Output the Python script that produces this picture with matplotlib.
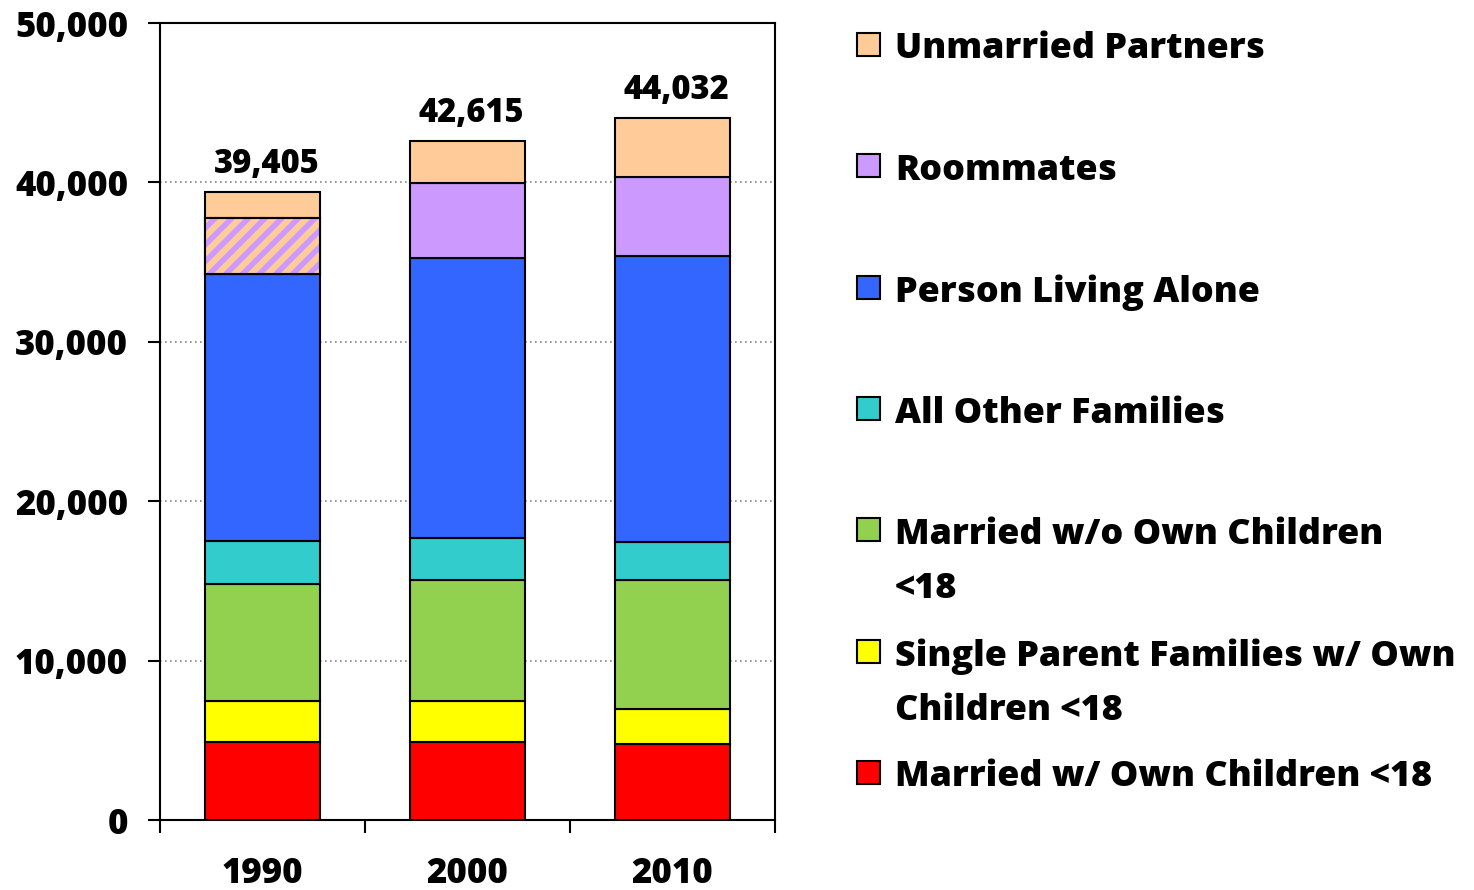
import matplotlib.pyplot as plt
from matplotlib.patches import Rectangle
from matplotlib.ticker import FuncFormatter, FixedLocator

# data (thousands of households), bottom to top
years = ["1990", "2000", "2010"]
married_kids = [4890, 4890, 4770]
single_parent = [2580, 2580, 2190]
married_no_kids = [7330, 7590, 8100]
other_families = [2700, 2630, 2380]
living_alone = [16750, 17570, 17940]
roommates = [3520, 4700, 4960]
unmarried = [1635, 2655, 3692]
totals = [39405, 42615, 44032]

series = [married_kids, single_parent, married_no_kids, other_families,
          living_alone, roommates, unmarried]
labels = ["Married w/ Own Children <18",
          "Single Parent Families w/ Own\nChildren <18",
          "Married w/o Own Children\n<18",
          "All Other Families",
          "Person Living Alone",
          "Roommates",
          "Unmarried Partners"]
colors = ["#ff0000", "#ffff00", "#92d050", "#33cccc", "#3366ff", "#cc99ff",
          "#ffcc99"]

plt.rcParams['font.family'] = ['Open Sans', 'DejaVu Sans']
plt.rcParams['font.weight'] = 'heavy'
plt.rcParams['hatch.linewidth'] = 4.0
wt = "heavy"

fig = plt.figure(figsize=(14.74, 8.9), dpi=100)
ax = fig.add_axes([160/1474, 70/890, 615/1474, 797/890])

x = list(range(len(years)))
width = 0.56
bottom = [0, 0, 0]
for vals, col in zip(series, colors):
    ax.bar(x, vals, width, bottom=bottom, color=col, edgecolor="black",
           linewidth=1.5, zorder=3)
    bottom = [b + v for b, v in zip(bottom, vals)]

# 1990 roommates and partners not separated: hatched overlay
b90 = sum(s[0] for s in series[:5])
ax.bar(x[0], roommates[0], width, bottom=b90, color=colors[6],
       edgecolor=colors[5], hatch="//", linewidth=0, zorder=4)
ax.bar(x[0], roommates[0], width, bottom=b90, color="none",
       edgecolor="black", linewidth=1.5, zorder=5)

for xi, t in zip(x, totals):
    ax.text(xi + 0.02, t + 700, f"{t:,}", ha="center", va="bottom",
            fontsize=23.5, fontweight=wt)

ax.set_xlim(-0.5, 2.5)
ax.set_ylim(0, 50000)
ax.yaxis.set_major_locator(FixedLocator([0, 10000, 20000, 30000, 40000, 50000]))
ax.yaxis.set_major_formatter(FuncFormatter(lambda v, p: f"{int(v):,}"))
ax.set_xticks([-0.5, 0.5, 1.5, 2.5])
ax.set_xticklabels([])
ax.set_xticks(x, minor=True)
ax.set_xticklabels(years, minor=True)
ax.tick_params(axis="x", which="major", direction="out", length=9, width=1.5)
ax.tick_params(axis="x", which="minor", length=0, pad=26, labelsize=25)
ax.tick_params(axis="y", direction="out", length=9, width=1.5, pad=14,
               labelsize=25)
for lab in ax.get_xticklabels(minor=True) + ax.get_yticklabels():
    lab.set_fontweight(wt)
for sp in ax.spines.values():
    sp.set_linewidth(1.5)
ax.grid(axis="y", linestyle=(0, (1, 2)), color="#888888", linewidth=1.2,
        zorder=0)

# legend drawn on the right, one text per line
leg_y = [45, 166, 288, 409, 530, 652, 773]
for lab, col, yy in zip(labels[::-1], colors[::-1], leg_y):
    fy = 1 - yy / 890
    fig.patches.append(Rectangle((857/1474, fy - 11/890), 23/1474, 23/890,
                                 transform=fig.transFigure, facecolor=col,
                                 edgecolor="black", linewidth=1.5))
    for i, line in enumerate(lab.split("\n")):
        fig.text(895/1474, fy - i * 55/890, line, ha="left",
                 va="center_baseline", fontsize=25.8, fontweight=wt)

fig.savefig("out.png", dpi=100)
